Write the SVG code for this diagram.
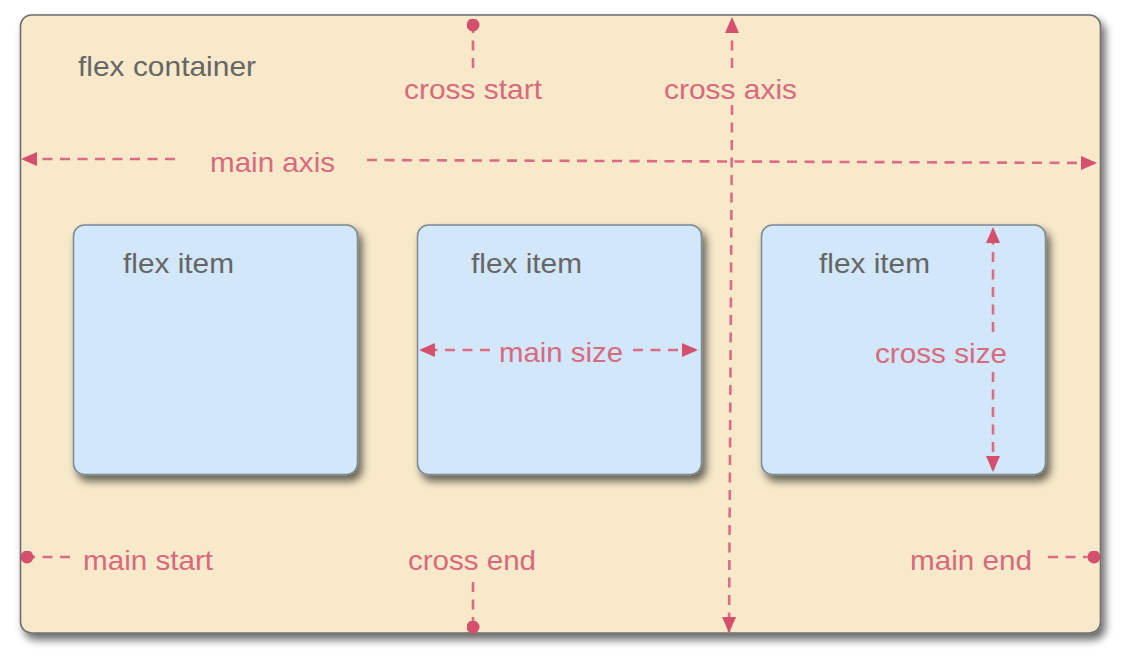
<svg xmlns="http://www.w3.org/2000/svg" width="1144" height="660" viewBox="0 0 1144 660">
  <style>
    .box-text { font-family: "Liberation Sans", Arial, sans-serif; font-size: 28.5px; fill: #666666; }
    .lbl { font-family: "Liberation Sans", Arial, sans-serif; font-size: 28.5px; fill: #d86a7e; }
    .dash { fill: none; stroke: #dc6c84; stroke-width: 2.6; stroke-dasharray: 10 7.5; }
    .container { fill: #f7e9ca; stroke: #6e6e6e; stroke-width: 1.6; }
    .item { fill: #d2e7f9; stroke: #7d8790; stroke-width: 1.5; }
  </style>
  <defs>
    <filter id="shadow" x="-10%" y="-10%" width="125%" height="125%">
      <feGaussianBlur in="SourceAlpha" stdDeviation="4"/>
      <feOffset dx="4" dy="6" result="b"/>
      <feComponentTransfer><feFuncA type="linear" slope="0.6"/></feComponentTransfer>
      <feMerge><feMergeNode/><feMergeNode in="SourceGraphic"/></feMerge>
    </filter>
    <marker id="arrow" viewBox="0 0 16 14" refX="15" refY="7" markerWidth="16" markerHeight="14" markerUnits="userSpaceOnUse" orient="auto">
      <path d="M0,0 L16,7 L0,14 z" fill="#d4506c"/>
    </marker>
    <marker id="dot" viewBox="0 0 13 13" refX="6.5" refY="6.5" markerWidth="13" markerHeight="13" markerUnits="userSpaceOnUse" orient="auto">
      <circle cx="6.5" cy="6.5" r="6.5" fill="#d4506c"/>
    </marker>
  </defs>

  <g id="flex-container">
    <rect class="container" x="20.5" y="15" width="1080" height="618" rx="11" filter="url(#shadow)"/>
    <text class="box-text" x="78" y="76" textLength="178" lengthAdjust="spacingAndGlyphs">flex container</text>
  </g>

  <g id="flex-item-1">
    <rect class="item" x="73.5" y="225" width="284" height="249.5" rx="11" filter="url(#shadow)"/>
    <text class="box-text" x="123" y="273" textLength="111" lengthAdjust="spacingAndGlyphs">flex item</text>
  </g>
  <g id="flex-item-2">
    <rect class="item" x="417.5" y="225" width="284" height="249.5" rx="11" filter="url(#shadow)"/>
    <text class="box-text" x="471" y="273" textLength="111" lengthAdjust="spacingAndGlyphs">flex item</text>
  </g>
  <g id="flex-item-3">
    <rect class="item" x="761.5" y="225" width="284" height="249.5" rx="11" filter="url(#shadow)"/>
    <text class="box-text" x="819" y="273" textLength="111" lengthAdjust="spacingAndGlyphs">flex item</text>
  </g>

  <g id="connectors">
    <!-- main axis -->
    <line class="dash" x1="175" y1="159" x2="22" y2="159" marker-end="url(#arrow)"/>
    <line class="dash" x1="367" y1="160" x2="1096" y2="163" marker-end="url(#arrow)"/>
    <!-- cross axis -->
    <line class="dash" x1="732" y1="68" x2="732" y2="18" marker-end="url(#arrow)"/>
    <line class="dash" x1="732" y1="105" x2="729" y2="632" marker-end="url(#arrow)"/>
    <!-- cross start / end -->
    <line class="dash" x1="473" y1="68" x2="473" y2="25" marker-end="url(#dot)"/>
    <line class="dash" x1="473" y1="582" x2="473" y2="627" marker-end="url(#dot)"/>
    <!-- main start / end -->
    <line class="dash" x1="70" y1="557" x2="27" y2="557" marker-end="url(#dot)"/>
    <line class="dash" x1="1048" y1="557" x2="1094" y2="557" marker-end="url(#dot)"/>
    <!-- main size -->
    <line class="dash" x1="490" y1="350" x2="420" y2="350" marker-end="url(#arrow)"/>
    <line class="dash" x1="633" y1="350" x2="697" y2="350" marker-end="url(#arrow)"/>
    <!-- cross size -->
    <line class="dash" x1="993" y1="332" x2="993" y2="228" marker-end="url(#arrow)"/>
    <line class="dash" x1="993" y1="372" x2="993" y2="471" marker-end="url(#arrow)"/>
  </g>

  <g id="labels">
    <text class="lbl" x="210" y="172" textLength="125" lengthAdjust="spacingAndGlyphs">main axis</text>
    <text class="lbl" x="404" y="99" textLength="138" lengthAdjust="spacingAndGlyphs">cross start</text>
    <text class="lbl" x="664" y="99" textLength="133" lengthAdjust="spacingAndGlyphs">cross axis</text>
    <text class="lbl" x="499" y="362" textLength="124" lengthAdjust="spacingAndGlyphs">main size</text>
    <text class="lbl" x="875" y="363" textLength="132" lengthAdjust="spacingAndGlyphs">cross size</text>
    <text class="lbl" x="83" y="570" textLength="130" lengthAdjust="spacingAndGlyphs">main start</text>
    <text class="lbl" x="408" y="570" textLength="128" lengthAdjust="spacingAndGlyphs">cross end</text>
    <text class="lbl" x="910" y="570" textLength="122" lengthAdjust="spacingAndGlyphs">main end</text>
  </g>
</svg>
